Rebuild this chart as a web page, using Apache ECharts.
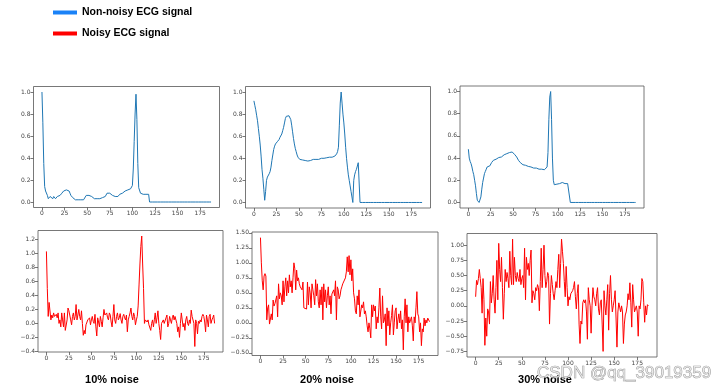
<!DOCTYPE html>
<html><head><meta charset="utf-8">
<script src="https://cdn.jsdelivr.net/npm/echarts@6/dist/echarts.min.js"></script>
<style>html,body{margin:0;padding:0;background:#fff}#c{width:722px;height:391px}</style>
</head><body><div id="c"></div>
<script>
// ---------- data ----------
const xTicks = [0, 25, 50, 75, 100, 125, 150, 175];
const yTicksClean = [0, 0.2, 0.4, 0.6, 0.8, 1.0];
const yTicks10 = [-0.4, -0.2, 0, 0.2, 0.4, 0.6, 0.8, 1.0, 1.2];
const yTicks20 = [-0.5, -0.25, 0, 0.25, 0.5, 0.75, 1.0, 1.25, 1.5];
const yTicks30 = [-0.75, -0.5, -0.25, 0, 0.25, 0.5, 0.75, 1.0];
const legendNames = ['Non-noisy ECG signal', 'Noisy ECG signal'];
const captions = ['10% noise', '20% noise', '30% noise'];
const watermark = 'CSDN @qq_39019359';

const clean10 = [
1.0,0.72,0.35,0.14,0.1,0.09,0.06,0.03,0.04,0.05,
0.04,0.05,0.03,0.05,0.04,0.03,0.04,0.05,0.05,0.06,
0.06,0.07,0.08,0.09,0.1,0.11,0.1,0.11,0.11,0.1,
0.1,0.08,0.06,0.05,0.04,0.03,0.03,0.02,0.03,0.02,
0.02,0.03,0.01,0.02,0.02,0.01,0.02,0.01,0.03,0.06,
0.07,0.07,0.06,0.07,0.06,0.05,0.04,0.04,0.03,0.04,
0.03,0.03,0.04,0.03,0.03,0.04,0.03,0.04,0.04,0.05,
0.05,0.06,0.08,0.08,0.07,0.08,0.07,0.07,0.06,0.06,
0.06,0.05,0.06,0.05,0.05,0.06,0.07,0.07,0.06,0.08,
0.08,0.09,0.1,0.1,0.1,0.11,0.1,0.11,0.12,0.12,
0.15,0.3,0.55,0.8,0.98,0.75,0.35,0.13,0.12,0.08,
0.07,0.08,0.07,0.07,0.08,0.07,0.08,0.08,0.07,0.0,
0,0,0,0,0,0,0,0,0,0,
0,0,0,0,0,0,0,0,0,0,
0,0,0,0,0,0,0,0,0,0,
0,0,0,0,0,0,0,0,0,0,
0,0,0,0,0,0,0,0,0,0,
0,0,0,0,0,0,0,0,0,0,
0,0,0,0,0,0,0,0];

const clean20 = [
0.92,0.88,0.84,0.79,0.74,0.67,0.6,0.52,0.42,0.3,
0.22,0.12,0.02,0.1,0.2,0.23,0.24,0.26,0.28,0.32,
0.38,0.43,0.48,0.51,0.53,0.54,0.55,0.56,0.57,0.59,
0.6,0.62,0.65,0.68,0.72,0.76,0.78,0.785,0.79,0.785,
0.78,0.75,0.7,0.64,0.58,0.53,0.49,0.46,0.43,0.41,
0.4,0.39,0.385,0.385,0.385,0.38,0.38,0.38,0.375,0.375,
0.375,0.37,0.375,0.38,0.38,0.385,0.39,0.39,0.39,0.39,
0.39,0.395,0.39,0.395,0.395,0.4,0.395,0.4,0.4,0.4,
0.4,0.405,0.4,0.405,0.41,0.41,0.405,0.41,0.41,0.415,
0.42,0.43,0.44,0.46,0.5,0.7,0.9,1.0,0.9,0.8,
0.72,0.62,0.5,0.4,0.32,0.25,0.2,0.15,0.1,0.05,
0.0,0.2,0.25,0.28,0.3,0.33,0.36,0.36,0.0,0.0,
0,0,0,0,0,0,0,0,0,0,
0,0,0,0,0,0,0,0,0,0,
0,0,0,0,0,0,0,0,0,0,
0,0,0,0,0,0,0,0,0,0,
0,0,0,0,0,0,0,0,0,0,
0,0,0,0,0,0,0,0,0,0,
0,0,0,0,0,0,0,0];

const clean30 = [
0.48,0.4,0.37,0.35,0.32,0.28,0.25,0.2,0.15,0.08,
0.02,0.005,0.0,0.01,0.05,0.12,0.18,0.22,0.26,0.28,
0.3,0.32,0.325,0.33,0.33,0.34,0.36,0.37,0.38,0.385,
0.39,0.39,0.4,0.4,0.405,0.41,0.41,0.41,0.415,0.42,
0.43,0.43,0.435,0.44,0.44,0.445,0.45,0.44,0.45,0.455,
0.45,0.44,0.43,0.42,0.41,0.4,0.38,0.37,0.36,0.35,
0.345,0.34,0.34,0.335,0.335,0.33,0.33,0.325,0.32,0.32,
0.32,0.315,0.315,0.31,0.31,0.305,0.31,0.3,0.3,0.3,
0.3,0.305,0.3,0.29,0.3,0.295,0.31,0.31,0.32,0.45,
0.75,0.95,1.0,0.75,0.4,0.2,0.16,0.15,0.16,0.165,
0.17,0.17,0.17,0.175,0.18,0.18,0.175,0.18,0.17,0.17,
0.165,0.17,0.165,0.16,0.0,0,0,0,0,0,
0,0,0,0,0,0,0,0,0,0,
0,0,0,0,0,0,0,0,0,0,
0,0,0,0,0,0,0,0,0,0,
0,0,0,0,0,0,0,0,0,0,
0,0,0,0,0,0,0,0,0,0,
0,0,0,0,0,0,0,0,0,0,
0,0,0,0,0,0,0,0];

const noisy10 = [
1.03,0.5,0.1,0.3,0.28,0.05,0.12,0.08,0.15,0.1,
0.12,0.13,0.08,0.15,0.0,0.05,-0.05,0.15,0.05,-0.05,
0.15,-0.1,-0.12,0.05,0.22,0.18,0.2,0.05,-0.02,0.1,
0.15,0.05,0.1,0.27,0.05,0.12,0.2,0.1,0.05,0.18,
0.0,-0.17,-0.1,-0.15,-0.02,0.0,0.05,0.03,0.08,-0.02,
0.05,0.1,0.03,0.0,0.13,-0.05,-0.18,0.08,0.02,-0.05,
0.1,0.03,-0.05,0.08,0.2,0.12,0.1,0.15,0.08,0.05,
0.15,0.12,0.02,-0.05,0.1,0.27,0.05,0.0,0.1,0.15,
0.05,0.08,0.14,0.05,0.0,0.1,0.13,0.08,0.05,0.12,
-0.12,0.05,0.1,0.15,0.22,0.1,0.05,0.15,0.1,-0.02,
0.05,0.1,0.25,0.55,0.85,1.1,1.25,0.85,0.5,0.0,
0.05,0.03,0.02,0.05,-0.02,0.0,-0.1,0.0,0.05,-0.05,
0.05,0.15,0.0,0.08,0.18,0.0,-0.1,-0.23,0.0,0.02,
0.05,0.0,-0.02,0.08,0.12,-0.05,0.0,0.1,0.05,0.0,
0.08,0.12,0.05,0.1,0.1,0.0,-0.12,-0.05,-0.2,0.0,
0.15,0.05,-0.05,0.0,-0.1,0.05,0.1,0.0,-0.03,0.05,
0.0,0.19,0.1,0.1,0.0,-0.33,0.05,0.0,-0.15,0.03,
0.0,0.05,0.02,0.1,0.13,0.1,0.02,-0.12,0.12,0.05,
-0.05,0.1,0.13,0.0,0.05,0.08,0.12,0.0];

const noisy20 = [
1.42,1.0,0.7,0.55,0.78,0.82,0.78,0.05,0.25,0.3,
-0.02,0.0,0.15,0.05,0.38,0.28,0.32,0.3,0.45,0.1,
0.65,0.4,0.5,0.45,0.3,0.7,0.35,0.6,0.75,0.45,
0.7,0.5,0.8,0.6,0.7,0.5,0.75,1.0,0.9,0.55,
0.88,0.7,0.75,0.65,0.6,0.62,0.55,0.68,0.25,0.25,
0.25,0.23,0.68,0.3,0.6,0.5,0.25,0.65,0.55,0.45,
0.3,0.72,0.45,0.65,0.35,0.25,0.55,0.3,0.6,0.05,
0.65,0.35,0.55,0.25,0.45,0.6,0.3,0.45,0.15,0.48,
0.5,0.55,0.45,0.7,0.05,0.6,0.55,0.4,0.45,0.55,
0.6,0.65,0.62,0.65,0.75,0.85,1.1,0.85,1.12,0.8,
1.05,0.7,0.9,0.5,0.4,0.2,0.15,0.45,0.3,0.55,
0.1,0.12,0.3,0.25,0.35,0.15,0.2,0.1,-0.05,-0.15,
0.0,-0.1,-0.25,0.3,0.1,0.3,0.2,0.28,-0.1,0.1,
0.0,0.25,0.58,0.1,-0.1,0.45,0.0,0.05,0.15,-0.38,
0.25,-0.05,0.2,-0.2,0.0,0.12,0.3,-0.2,0.0,0.2,
0.25,-0.1,0.05,0.15,0.0,0.2,-0.1,0.05,-0.45,0.1,
0.4,0.0,0.3,-0.15,0.1,0.0,0.05,0.1,-0.05,-0.3,
0.1,0.0,0.25,0.52,0.15,0.1,-0.15,0.0,-0.38,-0.1,
-0.15,0.08,-0.05,0.05,0.0,0.08,0.05,0.02];

const noisy30 = [
0.15,0.42,0.35,0.45,0.6,0.45,0.3,-0.12,0.45,0.1,
-0.65,-0.2,-0.5,-0.05,-0.1,-0.3,0.4,0.05,0.2,0.5,
0.1,-0.12,0.3,0.75,0.1,1.03,0.6,0.4,0.8,0.3,
-0.22,0.2,0.6,0.4,0.55,0.45,0.3,0.9,0.5,0.35,
1.1,0.35,0.8,0.5,0.4,0.55,0.45,0.4,0.6,0.35,
0.45,0.5,0.3,0.95,0.1,0.8,0.6,0.7,0.5,0.75,
0.92,0.05,0.25,0.2,0.1,0.3,0.25,0.35,0.3,-0.08,
0.4,0.95,0.3,0.6,1.0,0.5,0.3,0.4,0.55,0.5,
-0.3,0.2,0.5,0.35,0.2,0.1,0.25,0.4,0.3,0.6,
0.85,0.3,0.7,1.1,0.9,0.7,0.4,0.15,0.65,0.3,
0.0,0.15,0.1,0.2,0.2,0.25,0.3,0.4,0.15,-0.05,
0.2,0.35,-0.3,-0.62,-0.25,-0.3,0.05,0.1,0.05,0.1,
-0.1,-0.55,0.3,0.1,0.0,-0.45,0.0,0.3,0.15,0.1,
0.0,0.2,0.3,-0.05,-0.15,0.05,0.1,-0.3,-0.75,0.25,
0.0,-0.15,0.1,0.35,-0.4,0.2,0.5,0.1,-0.1,0.0,
0.1,0.25,-0.2,-0.68,-0.1,0.05,0.05,-0.1,0.0,-0.1,
-0.62,-0.3,-0.15,-0.1,0.0,0.2,0.1,0.38,0.05,-0.35,
0.35,0.1,-0.1,-0.05,0.0,-0.1,-0.5,0.0,-0.05,0.1,
0.45,0.4,0.05,-0.27,0.0,-0.15,0.02,0.0];

// ---------- layout / styles ----------
const BLUE = '#1f77b4', RED = '#ff0000';
const panels = [
  { data: clean10, name: legendNames[0], color: BLUE, ticks: yTicksClean, dec: 1, y: [-0.05, 1.05], g: { left: 33.5, top: 86.5, width: 186, height: 121 } },
  { data: clean20, name: legendNames[0], color: BLUE, ticks: yTicksClean, dec: 1, y: [-0.05, 1.05], g: { left: 245.5, top: 86.5, width: 185, height: 121.5 } },
  { data: clean30, name: legendNames[0], color: BLUE, ticks: yTicksClean, dec: 1, y: [-0.05, 1.05], g: { left: 460, top: 86, width: 184, height: 122 } },
  { data: noisy10, name: legendNames[1], color: RED, ticks: yTicks10, dec: 1, y: [-0.409, 1.329], g: { left: 38, top: 230.5, width: 185, height: 121.5 } },
  { data: noisy20, name: legendNames[1], color: RED, ticks: yTicks20, dec: 2, y: [-0.5435, 1.5135], g: { left: 252, top: 232, width: 186, height: 123.5 } },
  { data: noisy30, name: legendNames[1], color: RED, ticks: yTicks30, dec: 2, y: [-0.8425, 1.1925], g: { left: 467, top: 233.5, width: 190, height: 123.5 } }
];
const AX = '#555', LBL = '#444';
const fmt = (v, d) => (v < 0 ? '\u2212' : '') + Math.abs(v).toFixed(d);

const grid = [], xAxis = [], yAxis = [], series = [];
panels.forEach((p, i) => {
  grid.push(Object.assign({ show: true, borderColor: AX, borderWidth: 0.8, backgroundColor: 'transparent', containLabel: false, outerBoundsMode: 'none' }, p.g));
  xAxis.push({
    type: 'value', gridIndex: i, min: -9.35, max: 196.35, position: 'bottom',
    axisLine: { show: false, onZero: false }, splitLine: { show: false },
    axisTick: { show: true, inside: false, length: 3, lineStyle: { color: AX, width: 0.8 }, customValues: xTicks },
    axisLabel: { customValues: xTicks, fontSize: 6, color: LBL, margin: 3, fontFamily: 'DejaVu Sans' }
  });
  yAxis.push({
    type: 'value', gridIndex: i, min: p.y[0], max: p.y[1], position: 'left',
    axisLine: { show: false, onZero: false }, splitLine: { show: false },
    axisTick: { show: true, inside: false, length: 3, lineStyle: { color: AX, width: 0.8 }, customValues: p.ticks },
    axisLabel: { customValues: p.ticks, fontSize: 6, color: LBL, margin: 3, fontFamily: 'DejaVu Sans', formatter: v => fmt(v, p.dec) }
  });
  series.push({
    type: 'line', name: p.name, xAxisIndex: i, yAxisIndex: i,
    showSymbol: false, symbol: 'none', silent: true,
    lineStyle: { color: p.color, width: 1 }, itemStyle: { color: p.color },
    data: p.data.map((v, k) => [k, v])
  });
});

const capX = [112, 327, 545];
const graphic = captions.map((t, i) => ({
  type: 'text', x: capX[i], y: 380, silent: true,
  style: { text: t, font: 'bold 11px "Liberation Sans", Arial, sans-serif', fill: '#000', textAlign: 'center', textVerticalAlign: 'middle' }
}));
graphic.push({
  type: 'text', x: 537, y: 373, silent: true, z: 100,
  style: { text: watermark, font: '17px "Liberation Sans", Arial, sans-serif', fill: 'rgba(235,235,235,0.55)', stroke: 'rgba(110,110,110,0.75)', lineWidth: 0.7, textAlign: 'left', textVerticalAlign: 'middle' }
});

const chart = echarts.init(document.getElementById('c'), null, { renderer: 'canvas' });
chart.setOption({
  animation: false,
  backgroundColor: '#fff',
  legend: {
    orient: 'vertical', left: 48, top: 2, icon: 'rect', itemWidth: 24, itemHeight: 4, itemGap: 10,
    selectedMode: false,
    textStyle: { fontSize: 10.5, fontWeight: 'bold', color: '#000', fontFamily: '"Liberation Sans", Arial, sans-serif', padding: [0, 0, 0, 0] },
    data: [
      { name: legendNames[0], itemStyle: { color: '#1a82f7' } },
      { name: legendNames[1], itemStyle: { color: '#ff0000' } }
    ]
  },
  grid, xAxis, yAxis, series, graphic
});
</script>
</body></html>
